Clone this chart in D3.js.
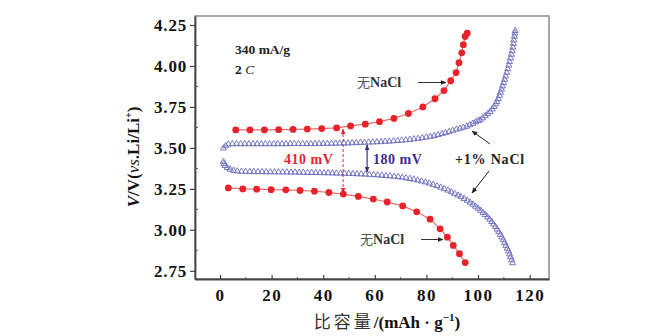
<!DOCTYPE html>
<html>
<head>
<meta charset="utf-8">
<script src="https://cdn.jsdelivr.net/npm/d3@7"></script>
<style>
  body { margin: 0; background: #fff; }
  text { font-family: "Liberation Serif", "DejaVu Serif", serif; font-weight: bold; }
  .cjk { font-family: "Noto Sans CJK SC", sans-serif; font-weight: normal; }
</style>
</head>
<body>
<div id="chart"></div>
<script>
// red circles, no NaCl: charge (upper) and discharge (lower) [capacity, voltage]
var redCharge = [
    [6.1, 3.610], [11.6, 3.610], [17.2, 3.610], [22.7, 3.611], [28.3, 3.613], [33.8, 3.615],
    [39.4, 3.618], [45.2, 3.622], [50.6, 3.634], [56.3, 3.645], [61.8, 3.660], [67.4, 3.680],
    [73.0, 3.710], [78.6, 3.750], [83.3, 3.800], [86.8, 3.850], [89.4, 3.910], [91.5, 3.960],
    [92.6, 4.020], [93.7, 4.080], [94.3, 4.130], [95.0, 4.180], [95.8, 4.200]
];
var redDischarge = [
    [3.2, 3.256], [8.8, 3.250], [14.2, 3.248], [19.8, 3.245], [25.5, 3.244], [31.0, 3.240],
    [36.6, 3.236], [42.2, 3.228], [47.8, 3.218], [53.6, 3.204], [59.4, 3.188], [64.8, 3.170],
    [70.8, 3.146], [76.2, 3.110], [81.4, 3.065], [85.3, 3.006], [88.1, 2.955], [90.4, 2.905],
    [92.8, 2.854], [95.0, 2.800]
];

// blue triangles, +1% NaCl
var blueCharge = [
    [1.3, 3.498], [2.2, 3.512], [3.2, 3.522], [4.8, 3.524], [6.4, 3.524], [8.0, 3.524],
    [9.6, 3.524], [11.2, 3.524], [12.8, 3.524], [14.4, 3.524], [16.0, 3.524], [17.6, 3.524],
    [19.2, 3.524], [20.8, 3.524], [22.4, 3.524], [24.0, 3.524], [25.6, 3.524], [27.2, 3.525],
    [28.8, 3.525], [30.4, 3.525], [32.0, 3.525], [33.6, 3.525], [35.2, 3.525], [36.8, 3.525],
    [38.4, 3.526], [40.0, 3.526], [41.6, 3.526], [43.2, 3.527], [44.8, 3.527], [46.4, 3.528],
    [48.0, 3.528], [49.6, 3.529], [51.2, 3.530], [52.8, 3.531], [54.4, 3.532], [56.0, 3.533],
    [57.6, 3.534], [59.2, 3.535], [60.8, 3.536], [62.4, 3.537], [64.0, 3.539], [65.6, 3.540],
    [67.2, 3.542], [68.8, 3.544], [70.4, 3.546], [72.0, 3.548], [73.6, 3.551], [75.2, 3.554],
    [76.8, 3.557], [78.4, 3.561], [80.0, 3.565], [81.5, 3.569], [83.0, 3.574], [84.5, 3.580],
    [86.0, 3.586], [87.4, 3.592], [88.8, 3.599], [90.2, 3.606], [91.6, 3.613], [93.0, 3.619],
    [94.3, 3.625], [95.6, 3.631], [96.8, 3.640], [98.0, 3.649], [99.1, 3.658], [100.0, 3.665],
    [100.8, 3.670], [101.8, 3.682], [102.8, 3.695], [103.8, 3.708], [104.7, 3.721], [105.5, 3.736],
    [106.2, 3.752], [106.8, 3.767], [107.3, 3.782], [107.8, 3.800], [108.3, 3.819], [108.7, 3.838],
    [109.1, 3.857], [109.5, 3.877], [109.9, 3.897], [110.3, 3.917], [110.7, 3.938], [111.1, 3.960],
    [111.5, 3.982], [111.9, 4.004], [112.2, 4.026], [112.6, 4.048], [112.9, 4.070], [113.2, 4.092],
    [113.5, 4.114], [113.7, 4.136], [113.9, 4.158], [114.1, 4.180], [114.3, 4.200], [114.4, 4.215]
];
var blueDischarge = [
    [1.3, 3.416], [1.5, 3.404], [2.0, 3.391], [2.8, 3.379], [3.9, 3.369], [5.2, 3.362],
    [6.7, 3.358], [8.3, 3.356], [9.9, 3.355], [11.5, 3.355], [13.1, 3.354], [14.7, 3.354],
    [16.3, 3.354], [17.9, 3.353], [19.5, 3.353], [21.1, 3.353], [22.7, 3.352], [24.3, 3.352],
    [25.9, 3.352], [27.5, 3.351], [29.1, 3.351], [30.7, 3.350], [32.3, 3.350], [33.9, 3.349],
    [35.5, 3.349], [37.1, 3.348], [38.7, 3.348], [40.3, 3.347], [41.9, 3.347], [43.5, 3.346],
    [45.1, 3.345], [46.7, 3.345], [48.3, 3.344], [49.9, 3.343], [51.5, 3.342], [53.1, 3.341],
    [54.7, 3.340], [56.3, 3.339], [57.9, 3.337], [59.5, 3.336], [61.1, 3.334], [62.7, 3.332],
    [64.3, 3.330], [65.9, 3.328], [67.5, 3.326], [69.1, 3.324], [70.6, 3.320], [72.1, 3.316],
    [73.6, 3.312], [75.1, 3.308], [76.6, 3.303], [78.1, 3.297], [79.6, 3.291], [81.1, 3.284],
    [82.6, 3.276], [84.1, 3.268], [85.5, 3.259], [86.9, 3.250], [88.3, 3.241], [89.6, 3.231],
    [90.9, 3.221], [92.2, 3.211], [93.4, 3.201], [94.6, 3.190], [95.8, 3.179], [96.9, 3.167],
    [98.0, 3.155], [99.0, 3.143], [100.0, 3.131], [101.0, 3.118], [101.9, 3.105], [102.8, 3.092],
    [103.7, 3.078], [104.5, 3.064], [105.3, 3.049], [106.0, 3.034], [106.7, 3.019], [107.4, 3.003],
    [108.0, 2.987], [108.6, 2.971], [109.2, 2.955], [109.8, 2.938], [110.3, 2.921], [110.8, 2.904],
    [111.3, 2.887], [111.8, 2.870], [112.2, 2.852], [112.6, 2.834], [113.0, 2.816], [113.4, 2.798]
];

var xTicks = [0, 20, 40, 60, 80, 100, 120];
var yTicks = [2.75, 3.00, 3.25, 3.50, 3.75, 4.00, 4.25];

var W = 647, H = 336;
var svg = d3.select("#chart").append("svg")
    .attr("width", W).attr("height", H);

// scales (plot frame 195..549 x 16..279)
var x = d3.scaleLinear().domain([-9.7, 127.5]).range([195, 549]);
var y = d3.scaleLinear().domain([2.70, 4.305]).range([279, 16]);

// arrow markers
var defs = svg.append("defs");
function marker(id, color, size) {
    defs.append("marker")
        .attr("id", id)
        .attr("viewBox", "0 0 10 10")
        .attr("refX", 9).attr("refY", 5)
        .attr("markerWidth", size).attr("markerHeight", size)
        .attr("markerUnits", "userSpaceOnUse")
        .attr("orient", "auto-start-reverse")
        .append("path")
        .attr("d", "M0,1 L10,5 L0,9 Z")
        .attr("fill", color);
}
marker("arrK", "#222", 6);
marker("arrR", "#e4262c", 6);
marker("arrB", "#3b2f8f", 6);

// frame
svg.append("rect")
    .attr("x", 195).attr("y", 16)
    .attr("width", 354).attr("height", 263)
    .attr("fill", "none")
    .attr("stroke", "#8a8a8a")
    .attr("stroke-width", 1.5);

// Y axis
var yAxis = svg.append("g")
    .attr("transform", "translate(195,0)")
    .call(d3.axisLeft(y).tickValues(yTicks).tickFormat(d3.format(".2f")).tickSize(5).tickSizeOuter(0));
yAxis.select(".domain").attr("stroke", "#444").attr("stroke-width", 1.8);
yAxis.selectAll(".tick line").attr("stroke", "#444").attr("stroke-width", 1.2);
yAxis.selectAll(".tick text")
    .attr("x", -8)
    .style("font-size", "17px")
    .style("letter-spacing", "0.8px")
    .attr("fill", "#111");
// minor y ticks (inside)
svg.append("g").selectAll("line")
    .data(d3.range(0, 6).map(function (i) { return 2.875 + i * 0.25; }))
    .enter().append("line")
    .attr("x1", 195).attr("x2", 198)
    .attr("y1", function (d) { return y(d); })
    .attr("y2", function (d) { return y(d); })
    .attr("stroke", "#555");

// X axis
var xAxis = svg.append("g")
    .attr("transform", "translate(0,279)")
    .call(d3.axisBottom(x).tickValues(xTicks).tickSize(-4).tickSizeOuter(0));
xAxis.select(".domain").attr("stroke", "#444").attr("stroke-width", 1.8);
xAxis.selectAll(".tick line").attr("stroke", "#444").attr("stroke-width", 1.2);
xAxis.selectAll(".tick text")
    .attr("y", 10)
    .style("font-size", "17px")
    .style("letter-spacing", "1.5px")
    .attr("fill", "#111");
svg.append("g").selectAll("line")
    .data(d3.range(0, 6).map(function (i) { return 10 + i * 20; }))
    .enter().append("line")
    .attr("x1", function (d) { return x(d); })
    .attr("x2", function (d) { return x(d); })
    .attr("y1", 279).attr("y2", 277)
    .attr("stroke", "#555");

// axis titles
var xt = svg.append("text")
    .attr("x", 387).attr("y", 328)
    .attr("text-anchor", "middle")
    .style("font-size", "17px")
    .attr("fill", "#111");
xt.append("tspan").attr("class", "cjk").style("letter-spacing", "3px").attr("fill", "#333").text("比容量");
xt.append("tspan").text("/(mAh · g");
xt.append("tspan").attr("dy", -7).style("font-size", "11px").text("−1");
xt.append("tspan").attr("dy", 7).text(")");

var yt = svg.append("text")
    .attr("transform", "translate(139,157) rotate(-90)")
    .attr("text-anchor", "middle")
    .style("font-size", "17px")
    .attr("fill", "#111");
yt.append("tspan").style("font-style", "italic").text("V");
yt.append("tspan").text("/V(");
yt.append("tspan").style("font-style", "italic").style("font-weight", "normal").text("vs");
yt.append("tspan").text(".Li/Li");
yt.append("tspan").attr("dy", -7).style("font-size", "10px").text("+");
yt.append("tspan").attr("dy", 7).text(")");

// curves
var line = d3.line()
    .x(function (d) { return x(d[0]); })
    .y(function (d) { return y(d[1]); });

[redCharge, redDischarge].forEach(function (data) {
    svg.append("path")
        .datum(data)
        .attr("d", line)
        .attr("fill", "none")
        .attr("stroke", "#ee6a6a")
        .attr("stroke-width", 1.2);
    svg.append("g").selectAll("circle")
        .data(data)
        .enter().append("circle")
        .attr("cx", function (d) { return x(d[0]); })
        .attr("cy", function (d) { return y(d[1]); })
        .attr("r", 3.4)
        .attr("fill", "#e8222a");
});

var tri = d3.symbol().type(d3.symbolTriangle).size(16);
[blueCharge, blueDischarge].forEach(function (data) {
    svg.append("g").selectAll("path")
        .data(data)
        .enter().append("path")
        .attr("d", tri)
        .attr("transform", function (d) { return "translate(" + x(d[0]) + "," + y(d[1]) + ")"; })
        .attr("fill", "none")
        .attr("stroke", "#6a6ac0")
        .attr("stroke-width", 0.9);
});

// annotations
svg.append("text").attr("x", 235).attr("y", 54).style("font-size", "13.5px").attr("fill", "#222").text("340 mA/g");
var rate = svg.append("text").attr("x", 235).attr("y", 74).style("font-size", "13.5px").attr("fill", "#222");
rate.append("tspan").text("2 ");
rate.append("tspan").style("font-style", "italic").style("font-weight", "normal").text("C");

function noNaCl(tx, ty, ax1, ax2, ay) {
    var t = svg.append("text").attr("x", tx).attr("y", ty).style("font-size", "14px").attr("fill", "#333");
    t.append("tspan").attr("class", "cjk").style("font-size", "13px").attr("fill", "#555").text("无");
    t.append("tspan").text("NaCl");
    svg.append("line")
        .attr("x1", ax1).attr("x2", ax2).attr("y1", ay).attr("y2", ay)
        .attr("stroke", "#333").attr("stroke-width", 1)
        .attr("marker-end", "url(#arrK)");
}
noNaCl(357, 87, 418, 446, 82.5);
noNaCl(360, 244, 421, 443, 239.5);

// 410 mV gap (dashed red) and 180 mV gap (blue)
svg.append("line")
    .attr("x1", x(47.7)).attr("x2", x(47.7))
    .attr("y1", y(3.615)).attr("y2", y(3.225))
    .attr("stroke", "#e4262c").attr("stroke-width", 1)
    .attr("stroke-dasharray", "3,2")
    .attr("marker-start", "url(#arrR)")
    .attr("marker-end", "url(#arrR)");
svg.append("text").attr("x", 284).attr("y", 164).style("font-size", "14px").style("letter-spacing", "0.5px")
    .attr("fill", "#e4262c").text("410 mV");

svg.append("line")
    .attr("x1", x(57)).attr("x2", x(57))
    .attr("y1", y(3.518)).attr("y2", y(3.352))
    .attr("stroke", "#3b2f8f").attr("stroke-width", 1.2)
    .attr("marker-start", "url(#arrB)")
    .attr("marker-end", "url(#arrB)");
svg.append("text").attr("x", 373).attr("y", 164).style("font-size", "14px").style("letter-spacing", "0.5px")
    .attr("fill", "#3b2f8f").text("180 mV");

svg.append("text").attr("x", 455).attr("y", 164).style("font-size", "14px").style("letter-spacing", "0.8px")
    .attr("fill", "#222").text("+1% NaCl");
svg.append("line")
    .attr("x1", 490).attr("y1", 144).attr("x2", 472).attr("y2", 131)
    .attr("stroke", "#222").attr("stroke-width", 1)
    .attr("marker-end", "url(#arrK)");
svg.append("line")
    .attr("x1", 489).attr("y1", 171).attr("x2", 472).attr("y2", 193)
    .attr("stroke", "#222").attr("stroke-width", 1)
    .attr("marker-end", "url(#arrK)");
</script>
</body>
</html>
